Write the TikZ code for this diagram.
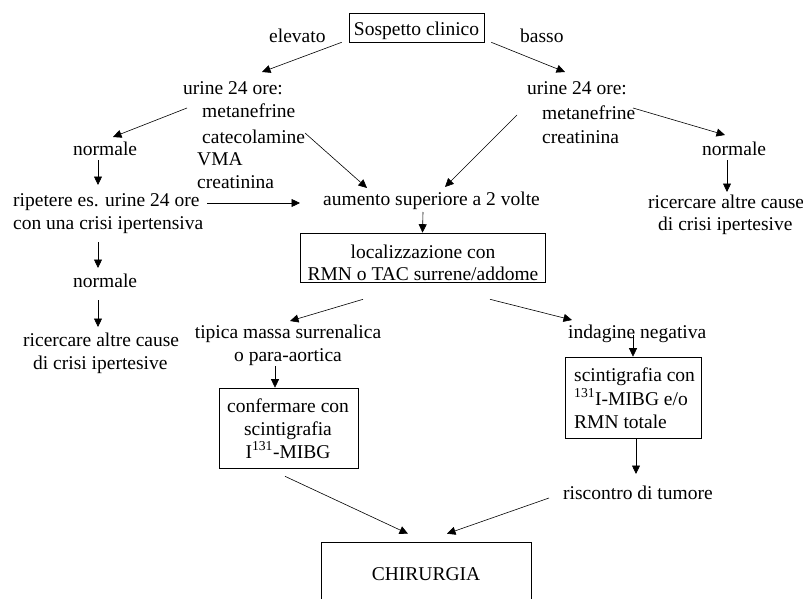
\documentclass[tikz,border=0pt]{standalone}
\usepackage{fontspec}
\setmainfont{Liberation Serif}
\usetikzlibrary{arrows.meta}
\begin{document}
\begin{tikzpicture}[x=1pt,y=-1pt,
  every node/.style={font=\fontsize{19.5}{23.5}\selectfont},
  txt/.style={inner sep=0pt, anchor=base west},
  ctxt/.style={inner sep=0pt, anchor=base},
  boxst/.style={draw, line width=0.6pt, inner sep=0pt},
  arr/.style={line width=0.6pt, -{Triangle[length=8.5pt,width=8pt]}}]
\useasboundingbox (0,0) rectangle (803,599);
% boxes
\node[boxst, anchor=base, minimum width=135pt, text height=23pt, text depth=6pt] (sosp) at (416.5,36) {Sospetto clinico};
\node[boxst, minimum width=245pt, minimum height=49pt] (loc) at (422.5,257.5) {};
\node[boxst, minimum width=139pt, minimum height=80pt] (conf) at (288.5,428) {};
\node[boxst, minimum width=136pt, minimum height=81pt] (scint) at (633,397.5) {};
\node[boxst, anchor=base, minimum width=210pt, text height=38pt, text depth=40pt] (chir) at (426,580) {CHIRURGIA};
% labels
\node[txt] (elev) at (269,43) {elevato};
\node[txt] (basso) at (520,43) {basso};
\node[txt] (urL) at (183,95) {urine 24 ore:};
\node[txt] (metL) at (202,118) {metanefrine};
\node[txt] (catL) at (202,143) {catecolamine};
\node[txt] (vmaL) at (197,165) {VMA};
\node[txt] (creL) at (197,188) {creatinina};
\node[txt] (normL1) at (73,155) {normale};
\node[txt] (ripL1) at (13,206) {ripetere es. urine 24 ore};
\node[txt] (ripL2) at (13,229) {con una crisi ipertensiva};
\node[txt] (normL2) at (73,287) {normale};
\node[txt] (ricL1) at (23,346) {ricercare altre cause};
\node[txt] (ricL2) at (33,369) {di crisi ipertesive};
\node[txt] (aum) at (323,205) {aumento superiore a 2 volte};
\node[txt] (urR) at (527,95) {urine 24 ore:};
\node[txt] (metR) at (542,120) {metanefrine};
\node[txt] (creR) at (542,143) {creatinina};
\node[txt] (normR) at (702,155) {normale};
\node[txt] (ricR1) at (648,208) {ricercare altre cause};
\node[txt] (ricR2) at (658,230) {di crisi ipertesive};
\node[ctxt] (locA) at (423,258) {localizzazione con};
\node[ctxt] (locB) at (423,280) {RMN o TAC surrene/addome};
\node[ctxt] (tip1) at (288,338) {tipica massa surrenalica};
\node[ctxt] (tip2) at (288,361) {o para-aortica};
\node[txt] (ind) at (568,338) {indagine negativa};
\node[ctxt] (confA) at (288,412) {confermare con};
\node[ctxt] (confB) at (288,435) {scintigrafia};
\node[ctxt] (confC) at (288,458) {I\textsuperscript{131}-MIBG};
\node[txt] (scA) at (574,381) {scintigrafia con};
\node[txt] (scB) at (574,405) {\textsuperscript{131}I-MIBG e/o};
\node[txt] (scC) at (574,428) {RMN totale};
\node[txt] (risc) at (563,499) {riscontro di tumore};
% connectors
\draw[arr] ([shift={(-7,0)}]sosp.south west) -- ([shift={(79,-23)}]urL.base west);
\draw[arr] ([shift={(7,0)}]sosp.south east) -- ([shift={(38,-23)}]urR.base west);
\draw[arr] ([shift={(4,13)}]urL.base west) -- ([shift={(40,-18)}]normL1.base west);
\draw[arr] ([shift={(25,5)}]normL1.base west) -- ([shift={(85,-21)}]ripL1.base west);
\draw[arr] ([shift={(194,-3)}]ripL1.base west) -- ([shift={(-23,-2)}]aum.base west);
\draw[arr] ([shift={(103,-10)}]catL.base west) -- ([shift={(44,-17)}]aum.base west);
\draw[arr] ([shift={(-10,20)}]urR.base west) -- ([shift={(122,-18)}]aum.base west);
\draw[arr] ([shift={(91,-12)}]metR.base west) -- ([shift={(23,-20)}]normR.base west);
\draw[arr] ([shift={(25,5)}]normR.base west) -- ([shift={(79,-16)}]ricR1.base west);
\draw[arr] ([shift={(100,7)}]aum.base west) -- (loc.north);
\draw[arr] ([shift={(85,13)}]ripL2.base west) -- ([shift={(25,-19)}]normL2.base west);
\draw[arr] ([shift={(25,13)}]normL2.base west) -- ([shift={(75,-19)}]ricL1.base west);
\draw[arr] ([shift={(-59.5,17)}]loc.south) -- ([shift={(2,-17)}]tip1.base);
\draw[arr] ([shift={(67.5,17)}]loc.south) -- ([shift={(4,-18)}]ind.base west);
\draw[arr] ([shift={(-13,5)}]tip2.base) -- ([shift={(-13.5,0)}]conf.north);
\draw[arr] ([shift={(65,-3)}]ind.base west) -- (scint.north);
\draw[arr] ([shift={(3,0)}]scint.south) -- ([shift={(73,-25)}]risc.base west);
\draw[arr] ([shift={(-3.5,8)}]conf.south) -- ([shift={(-18,-8)}]chir.north);
\draw[arr] ([shift={(-14,-1)}]risc.base west) -- ([shift={(21,-8)}]chir.north);
\end{tikzpicture}
\end{document}
